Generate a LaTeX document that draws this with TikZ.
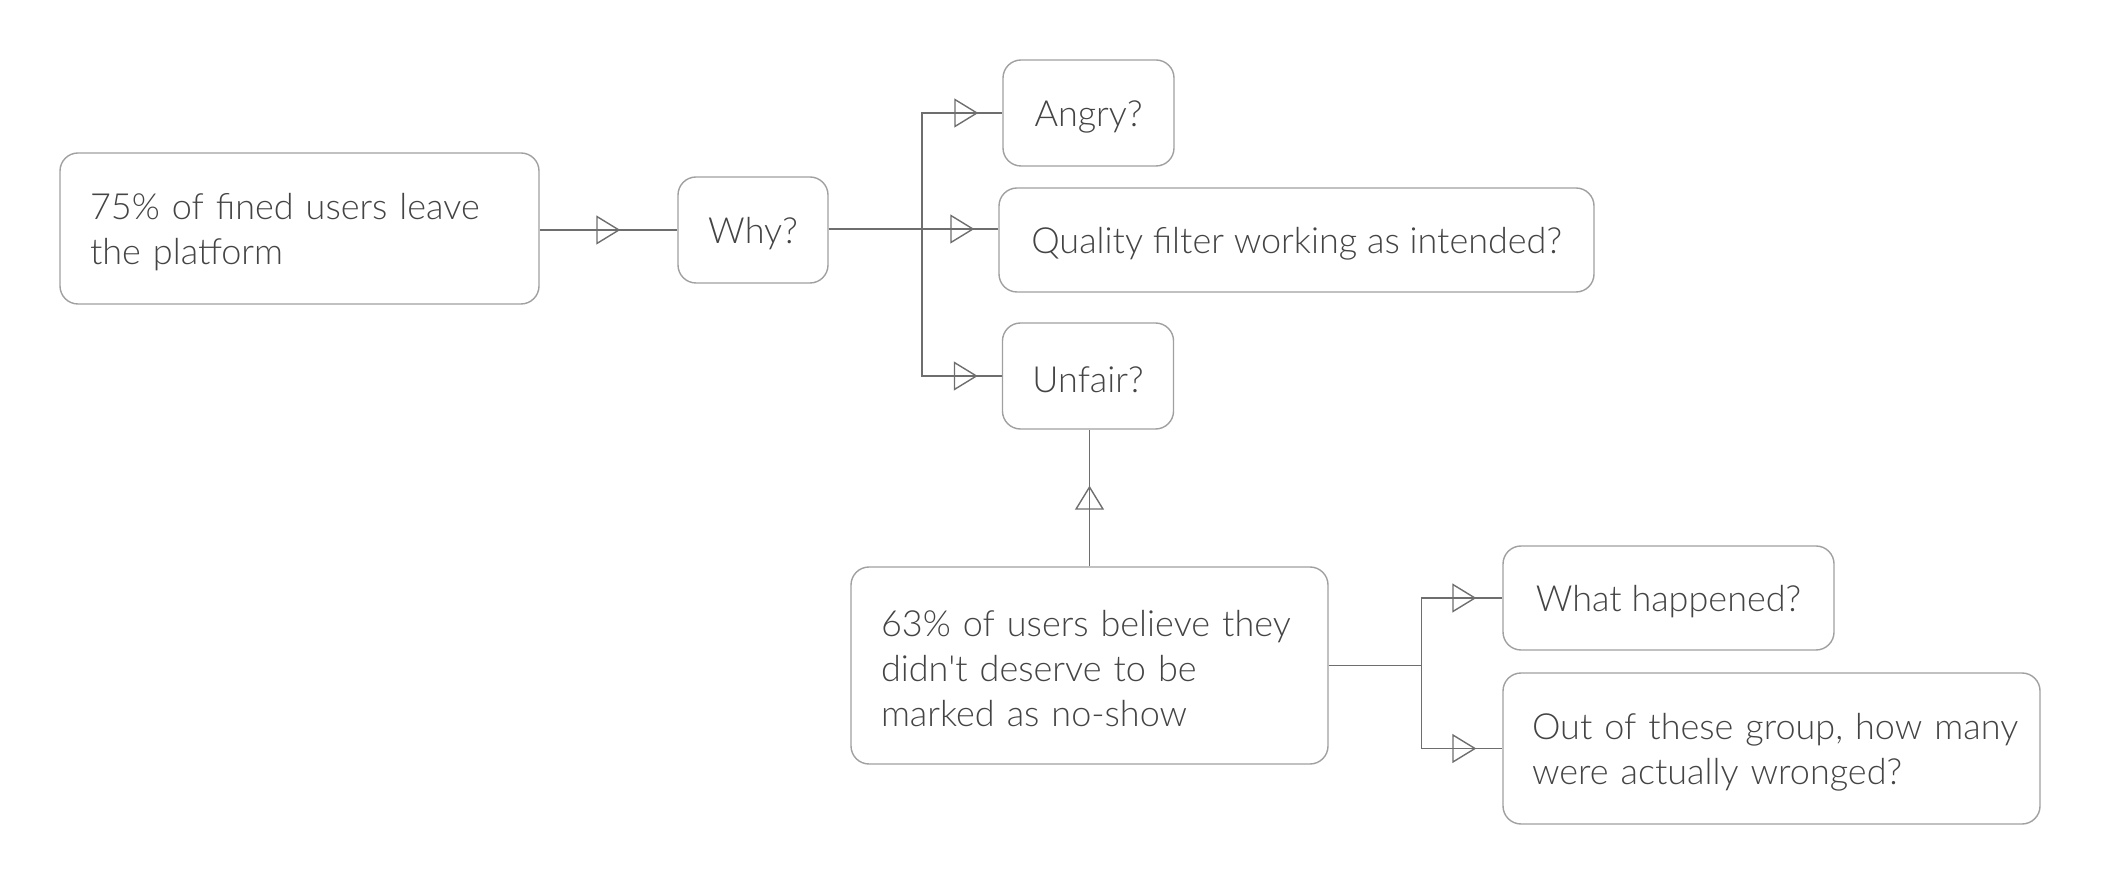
\documentclass[tikz,border=0pt]{standalone}
\usepackage{fontspec}
\IfFontExistsTF{Lato Light}{\setmainfont{Lato Light}[Ligatures=TeXOff]}{\setmainfont{Lato}[Ligatures=TeXOff]}
\usetikzlibrary{arrows.meta,decorations.markings}
\definecolor{boxgray}{HTML}{A0A0A0}
\definecolor{linegray}{HTML}{6E6E6E}
\definecolor{textgray}{HTML}{444444}
\begin{document}
\begin{tikzpicture}[x=0.5pt, y=-0.5pt,
        qbox/.style={draw=boxgray, line width=0.7pt, rounded corners=9pt, fill=white,
            text=textgray, inner xsep=15pt, align=left,
            font=\fontsize{18}{22.5}\selectfont,
            execute at begin node=\rule{0pt}{16.5pt}},
        link/.style={draw=linegray, line width=0.7pt, postaction={decorate},
            decoration={markings, mark=at position #1 with
                {\arrow[draw=linegray, fill=white, line width=0.7pt]{Triangle[open, length=12pt, width=14.5pt]}}}},
        link/.default={-12pt}]
        \useasboundingbox (0,0) rectangle (2102,886);

        \node[qbox, minimum width=239.5pt, minimum height=75.5pt, text width=209.5pt] (fined) at (299.5,228.5) {75\% of fined users leave\\the platform};
        \node[qbox, minimum width=75pt, minimum height=53pt, align=center] (why) at (753,230) {Why?};

        \node[qbox, minimum width=85.5pt, minimum height=53pt, align=center] (angry) at (1088.5,113) {Angry?};
        \node[qbox, minimum width=297.5pt, minimum height=52pt, align=center] (filter) at (1296.5,240) {Quality filter working as intended?};
        \node[qbox, minimum width=85pt, minimum height=53pt, align=center] (unfair) at (1088,376) {Unfair?};

        \node[qbox, minimum width=238.5pt, minimum height=98.5pt, text width=208.5pt] (believe) at (1089.5,665.5) {\mbox{63\% of users believe they}\\didn't deserve to be\\marked as no-show};
        \node[qbox, minimum width=165.5pt, minimum height=52pt, align=center] (happened) at (1668.5,598) {What happened?};
        \node[qbox, minimum width=268.5pt, minimum height=75.5pt, inner xsep=14.5pt, text width=239.5pt] (wronged) at (1771.5,748.5) {\mbox{Out of these group, how many}\\were actually wronged?};

        \coordinate (whyfork) at (922,229);
        \path (believe.east) ++(93,0) coordinate (believefork);

        \path[link=-28.5pt] (fined.east |- why.west) -- (why.west);
        \path[link] (why.east |- whyfork) -- (whyfork) |- (angry.west);
        \path[link] (why.east |- whyfork) -- (filter.west |- whyfork);
        \path[link] (whyfork) |- (unfair.west);

        \path[link=-28pt] (believe.north) -- (believe.north |- unfair.south);

        \path[link=-13pt] (believe.east) -- (believefork) |- (happened.west);
        \path[link=-13pt] (believefork) |- (wronged.west);
    \end{tikzpicture}
\end{document}
